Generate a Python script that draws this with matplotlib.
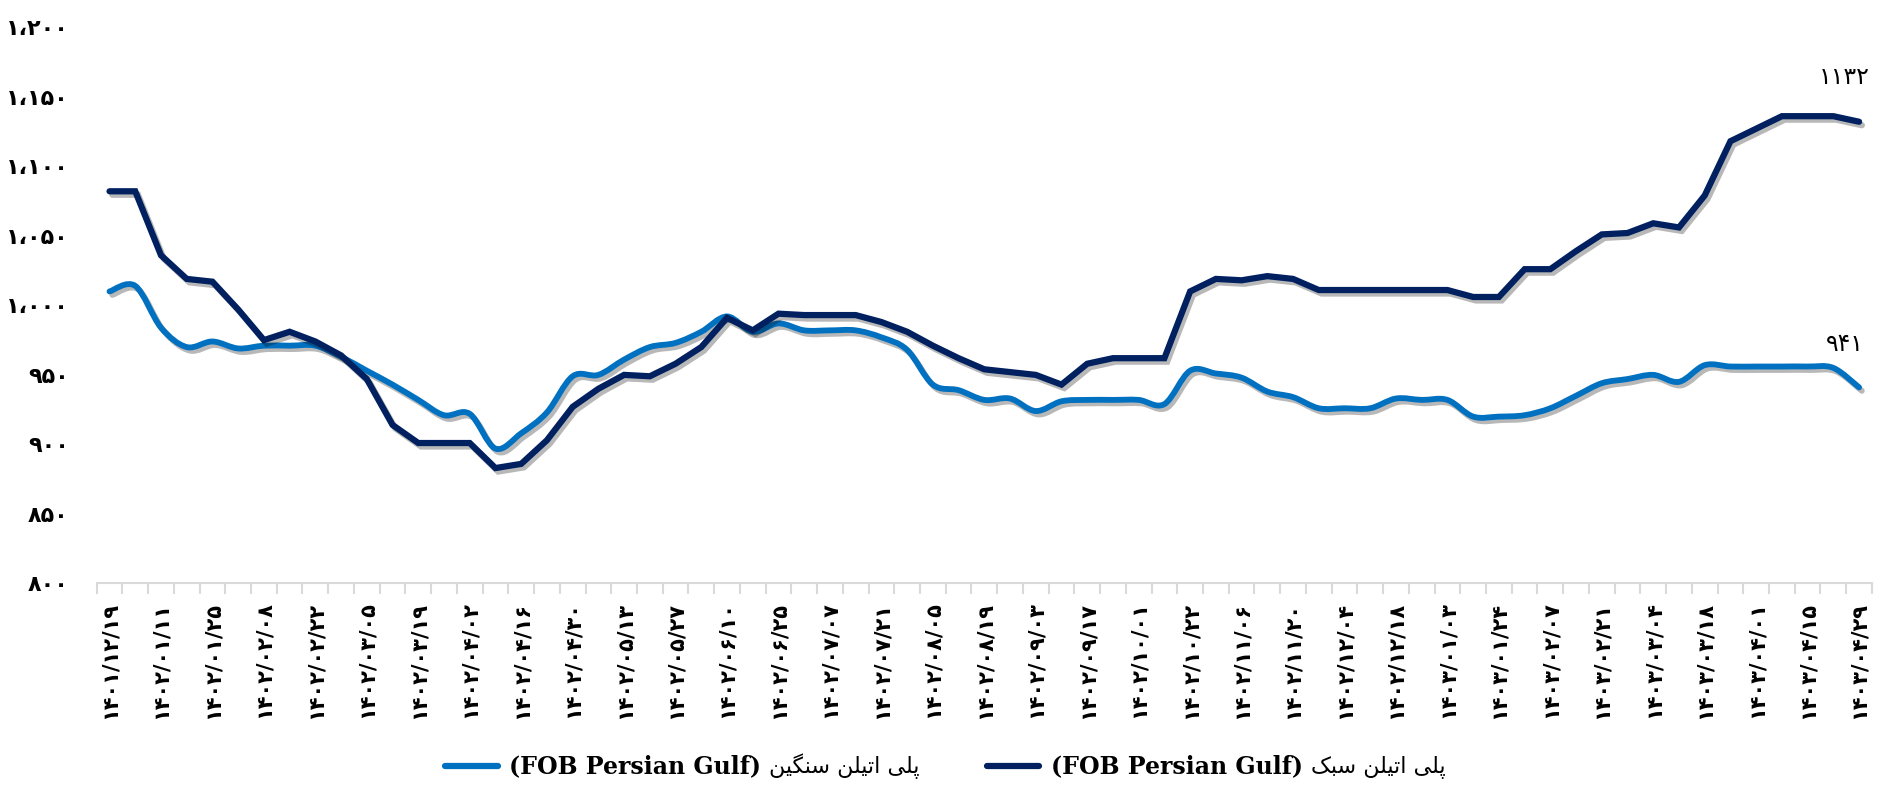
import matplotlib
matplotlib.use("Agg")
import matplotlib.pyplot as plt
import numpy as np
from matplotlib import patheffects as pe
from matplotlib.path import Path
from matplotlib.patches import PathPatch
from matplotlib.lines import Line2D
from matplotlib.offsetbox import TextArea, DrawingArea, HPacker, AnchoredOffsetbox
from matplotlib import font_manager
from matplotlib.ft2font import FT2Font

# weekly prices, USD/t (one point per week, every second week labelled)
dates = ["1401/12/19", "1402/01/11", "1402/01/25", "1402/02/08", "1402/02/22",
         "1402/03/05", "1402/03/19", "1402/04/02", "1402/04/16", "1402/04/30",
         "1402/05/13", "1402/05/27", "1402/06/10", "1402/06/25", "1402/07/07",
         "1402/07/21", "1402/08/05", "1402/08/19", "1402/09/03", "1402/09/17",
         "1402/10/01", "1402/10/22", "1402/11/06", "1402/11/20", "1402/12/04",
         "1402/12/18", "1403/01/03", "1403/01/24", "1403/02/07", "1403/02/21",
         "1403/03/04", "1403/03/18", "1403/04/01", "1403/04/15", "1403/04/29"]

hdpe = [1010, 1014, 984, 970, 974, 969, 971, 971, 971, 963,
        953, 943, 932, 921, 922, 897, 908, 923, 949, 950,
        961, 970, 973, 981, 992, 981, 987, 982, 982, 982,
        977, 968, 943, 939, 932, 933, 924, 931, 932, 932,
        932, 929, 953, 951, 948, 938, 934, 926, 926, 926,
        933, 932, 932, 920, 920, 921, 926, 935, 944, 947,
        950, 945, 957, 956, 956, 956, 956, 955, 941]

ldpe = [1082, 1082, 1036, 1019, 1017, 997, 975, 981, 974, 964,
        947, 914, 901, 901, 901, 883, 886, 903, 927, 940,
        950, 949, 958, 970, 991, 982, 994, 993, 993, 993,
        988, 981, 971, 962, 954, 952, 950, 943, 958, 962,
        962, 962, 1010, 1019, 1018, 1021, 1019, 1011, 1011, 1011,
        1011, 1011, 1011, 1006, 1006, 1026, 1026, 1039, 1051, 1052,
        1059, 1056, 1079, 1118, 1127, 1136, 1136, 1136, 1132]

name_hdpe = "پلی اتیلن سنگین"
name_ldpe = "پلی اتیلن سبک"
fob = "(FOB Persian Gulf)"

LIGHT = "#0070C0"
DARK = "#002060"

# --- tiny Arabic-script shaper (matplotlib does not join letters) ---
FORMS = {  # isolated, final, initial, medial
    "ا": ("\uFE8D", "\uFE8E", None, None),
    "ب": ("\uFE8F", "\uFE90", "\uFE91", "\uFE92"),
    "ت": ("\uFE95", "\uFE96", "\uFE97", "\uFE98"),
    "س": ("\uFEB1", "\uFEB2", "\uFEB3", "\uFEB4"),
    "ل": ("\uFEDD", "\uFEDE", "\uFEDF", "\uFEE0"),
    "ن": ("\uFEE5", "\uFEE6", "\uFEE7", "\uFEE8"),
    "پ": ("\uFB56", "\uFB57", "\uFB58", "\uFB59"),
    "ک": ("\uFB8E", "\uFB8F", "\uFB90", "\uFB91"),
    "گ": ("\uFB92", "\uFB93", "\uFB94", "\uFB95"),
    "ی": ("\uFBFC", "\uFBFD", "\uFBFE", "\uFBFF"),
}
# fall back to Arabic look-alikes if the font lacks the Persian forms
cmap = FT2Font(font_manager.findfont("DejaVu Sans")).get_charmap()
ALT = {"پ": "ب", "ک": ("\uFED9", "\uFEDA", "\uFEDB", "\uFEDC"),
       "گ": ("\uFED9", "\uFEDA", "\uFEDB", "\uFEDC"),
       "ی": ("\uFEEF", "\uFEF0", "\uFEF3", "\uFEF4")}
for k, alt in ALT.items():
    if any(ord(c) not in cmap for c in FORMS[k]):
        FORMS[k] = FORMS[alt] if isinstance(alt, str) else alt


def shape_word(word):
    out = []
    for i, ch in enumerate(word):
        iso, fin, ini, med = FORMS[ch]
        prev_joins = i > 0 and FORMS[word[i - 1]][2] is not None
        next_joins = i < len(word) - 1 and ini is not None
        if prev_joins and next_joins:
            out.append(med)
        elif prev_joins:
            out.append(fin)
        elif next_joins:
            out.append(ini)
        else:
            out.append(iso)
    return "".join(reversed(out))


def rtl(text):
    return " ".join(shape_word(w) for w in reversed(text.split()))


def fa(s):
    return str(s).translate(str.maketrans("0123456789,", "۰۱۲۳۴۵۶۷۸۹،"))


def smooth_path(x, y):
    # excel-style smoothed line: cubic bezier through every data point
    n = len(x)
    verts = [(x[0], y[0])]
    codes = [Path.MOVETO]
    for i in range(n - 1):
        xa, ya = (x[i - 1], y[i - 1]) if i > 0 else (x[i], y[i])
        xb, yb = (x[i + 2], y[i + 2]) if i + 2 < n else (x[i + 1], y[i + 1])
        verts.append((x[i] + (x[i + 1] - xa) / 6, y[i] + (y[i + 1] - ya) / 6))
        verts.append((x[i + 1] - (xb - x[i]) / 6, y[i + 1] - (yb - y[i]) / 6))
        verts.append((x[i + 1], y[i + 1]))
        codes += [Path.CURVE4] * 3
    return Path(verts, codes)


plt.rcParams["font.family"] = ["DejaVu Sans"]

fig = plt.figure(figsize=(18.88, 7.9), dpi=100)
ax = fig.add_axes([0.0512, 0.2614, 0.9403, 0.7042])

x = np.arange(len(hdpe))
shadow = [pe.SimpleLineShadow(offset=(2, -2.5), shadow_color="black", alpha=0.28), pe.Normal()]

ax.add_patch(PathPatch(smooth_path(x, hdpe), fill=False, edgecolor=LIGHT, lw=4.2,
                       capstyle="round", joinstyle="round", path_effects=shadow, zorder=2))
ax.plot(x, ldpe, color=DARK, lw=4.5, solid_capstyle="round", solid_joinstyle="miter",
        path_effects=shadow, zorder=3)

ax.annotate(fa(ldpe[-1]), xy=(x[-1], ldpe[-1]), xytext=(-11, 32), textcoords="offset points",
            ha="center", va="center", fontsize=17)
ax.annotate(fa(hdpe[-1]), xy=(x[-1], hdpe[-1]), xytext=(-10, 31), textcoords="offset points",
            ha="center", va="center", fontsize=17)

ax.set_xlim(-0.5, len(x) - 0.5)
ax.set_ylim(800, 1200)

ax.set_xticks(x[::2])
ax.set_xticklabels([fa(d) for d in dates], rotation=90, fontsize=15, fontweight="bold")
ax.set_xticks(np.arange(-0.5, len(x)), minor=True)
ax.tick_params(axis="x", which="major", length=0, pad=13)
ax.tick_params(axis="x", which="minor", length=8, width=1.5, color="#d9d9d9", direction="out")

yt = np.arange(800, 1201, 50)
ax.set_yticks(yt)
ax.set_yticklabels([fa(f"{v:,}") for v in yt], fontsize=16, fontweight="bold")
ax.tick_params(axis="y", length=0, pad=20)

for s in ["top", "right", "left"]:
    ax.spines[s].set_visible(False)
ax.spines["bottom"].set_color("#d9d9d9")
ax.spines["bottom"].set_linewidth(1.5)


# legend: line + bold latin part + persian part
def entry(color, label):
    da = DrawingArea(42, 10, 0, 0)
    da.add_artist(Line2D([2, 40], [5, 5], color=color, lw=4.5, solid_capstyle="round"))
    t1 = TextArea(fob, textprops=dict(family="DejaVu Serif", fontweight="heavy", fontsize=17))
    t2 = TextArea(rtl(label), textprops=dict(family="DejaVu Sans", fontsize=16))
    return HPacker(children=[da, t1, t2], sep=6, align="center")


box = HPacker(children=[entry(LIGHT, name_hdpe), entry(DARK, name_ldpe)], sep=46, align="center")
fig.add_artist(AnchoredOffsetbox(loc="center", child=box, frameon=False, pad=0,
                                 bbox_to_anchor=(0.5, 0.03), bbox_transform=fig.transFigure))

fig.savefig("out.png", dpi=100, facecolor="white")
